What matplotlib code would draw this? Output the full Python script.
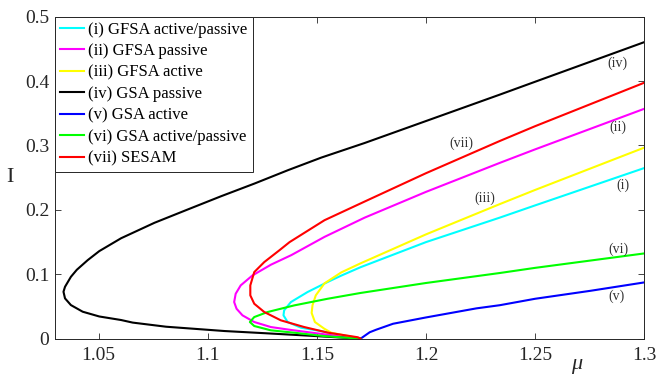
import numpy as np
import matplotlib
matplotlib.use("Agg")
import matplotlib.pyplot as plt

plt.rcParams['font.family'] = 'Liberation Serif'

# bifurcation branches, ordered from the lower branch at mu=1.17 round the fold to mu=1.3
mu_i = [1.170, 1.1612, 1.1518, 1.1427, 1.1366, 1.1347, 1.1350, 1.1381, 1.1457, 1.1549, 1.1612,
        1.170, 1.200, 1.2338, 1.250, 1.300]
I_i = [0.000, 0.0055, 0.0119, 0.0171, 0.0259, 0.0363, 0.0440, 0.0569, 0.0724, 0.0880, 0.0980,
       0.111, 0.150, 0.188, 0.207, 0.265]

mu_ii = [1.170, 1.1535, 1.1383, 1.1289, 1.1213, 1.1159, 1.1132, 1.1121, 1.1128, 1.1151, 1.1205,
         1.1290, 1.1383, 1.1535, 1.1719, 1.200, 1.2338, 1.250, 1.300]
I_ii = [0.000, 0.0068, 0.0135, 0.0181, 0.0259, 0.0363, 0.0465, 0.0569, 0.0698, 0.0828, 0.0983,
        0.1150, 0.1298, 0.1581, 0.188, 0.228, 0.273, 0.294, 0.357]

mu_iii = [1.170, 1.1658, 1.1566, 1.1534, 1.1491, 1.1476, 1.1480, 1.1495, 1.1535, 1.1612,
          1.170, 1.200, 1.2338, 1.250, 1.300]
I_iii = [0.000, 0.0031, 0.0093, 0.0155, 0.0259, 0.0400, 0.0520, 0.0673, 0.0860, 0.103,
         0.117, 0.162, 0.209, 0.231, 0.2967]

mu_iv = [1.170, 1.150, 1.1268, 1.1077, 1.0809, 1.0656, 1.0603, 1.0503, 1.0427, 1.0373, 1.0346,
         1.0339, 1.0346, 1.0373, 1.0400, 1.0450, 1.0503, 1.0603, 1.0756, 1.0908, 1.1061, 1.1214,
         1.1367, 1.1520, 1.1719, 1.200, 1.2338, 1.250, 1.300]
I_iv = [0.000, 0.0040, 0.0084, 0.0119, 0.0186, 0.0250, 0.0290, 0.0345, 0.0419, 0.0522, 0.0626,
        0.0729, 0.0806, 0.0961, 0.1070, 0.1220, 0.1360, 0.156, 0.180, 0.2006, 0.2212, 0.2409,
        0.2616, 0.2812, 0.3039, 0.338, 0.379, 0.399, 0.4605]

mu_v = [1.170, 1.1742, 1.1772, 1.1849, 1.200, 1.2231, 1.2338, 1.250, 1.2754, 1.300]
I_v = [0.000, 0.010, 0.0140, 0.0232, 0.033, 0.0471, 0.052, 0.062, 0.0744, 0.0874]

mu_vi = [1.170, 1.1535, 1.1396, 1.1289, 1.1213, 1.1193, 1.1213, 1.1274, 1.1396, 1.1549,
         1.170, 1.200, 1.2338, 1.250, 1.300]
I_vi = [0.000, 0.0040, 0.0093, 0.0130, 0.0197, 0.0259, 0.0336, 0.0414, 0.0517, 0.0620,
        0.071, 0.0865, 0.102, 0.110, 0.1324]

mu_vii = [1.170, 1.1688, 1.1549, 1.1442, 1.1335, 1.1259, 1.1213, 1.1195, 1.1195, 1.1213, 1.1259,
          1.1329, 1.1375, 1.1535, 1.1719, 1.200, 1.2338, 1.250, 1.300]
I_vii = [0.000, 0.0022, 0.0095, 0.0181, 0.0285, 0.0414, 0.0543, 0.0673, 0.0828, 0.1034, 0.1190,
         0.1375, 0.150, 0.184, 0.213, 0.257, 0.307, 0.330, 0.3975]

labels = ["(i) GFSA active/passive", "(ii) GFSA passive", "(iii) GFSA active", "(iv) GSA passive",
          "(v) GSA active", "(vi) GSA active/passive", "(vii) SESAM"]
colors = ["#00ffff", "#ff00ff", "#ffff00", "#000000", "#0000ff", "#00ff00", "#ff0000"]

# small curve tags
tags = ["(i)", "(ii)", "(iii)", "(iv)", "(v)", "(vi)", "(vii)"]
tag_mu = [1.2901, 1.2881, 1.2269, 1.2876, 1.2873, 1.2883, 1.2162]
tag_I = [0.239, 0.328, 0.2177, 0.427, 0.0662, 0.1386, 0.303]

xticks = [1.05, 1.1, 1.15, 1.2, 1.25, 1.3]
xticklabels = ["1.05", "1.1", "1.15", "1.2", "1.25", "1.3"]
yticks = [0, 0.1, 0.2, 0.3, 0.4, 0.5]
yticklabels = ["0", "0.1", "0.2", "0.3", "0.4", "0.5"]

fig = plt.figure(figsize=(6.56, 3.77), dpi=100)
ax = fig.add_axes([0.0838, 0.1016, 0.8983, 0.8541])

curves = [(mu_i, I_i), (mu_ii, I_ii), (mu_iii, I_iii), (mu_iv, I_iv),
          (mu_v, I_v), (mu_vi, I_vi), (mu_vii, I_vii)]
for (m, v), c, lab in zip(curves, colors, labels):
    ax.plot(m, v, color=c, lw=1.5, label=lab)

for t, m, v in zip(tags, tag_mu, tag_I):
    ax.text(m, v, t, fontsize=10, color="#333333", ha="center", va="center")

ax.set_xlim(1.03, 1.3)
ax.set_ylim(0, 0.5)
ax.set_xticks(xticks)
ax.set_xticklabels(xticklabels)
ax.set_yticks(yticks)
ax.set_yticklabels(yticklabels)
ax.tick_params(direction="in", top=True, right=True, length=4, width=0.6,
               labelsize=14, colors="#262626")
ax.tick_params(axis="x", pad=6)
ax.tick_params(axis="y", pad=4)
for s in ax.spines.values():
    s.set_color("#262626")
    s.set_linewidth(0.7)

ax.set_xlabel("μ", fontsize=16, fontstyle="italic", color="#262626")
ax.xaxis.set_label_coords(0.885, -0.05)
ax.set_ylabel("I", fontsize=16, rotation=0, color="#262626")
ax.yaxis.set_label_coords(-0.076, 0.47)

leg = ax.legend(loc="upper left", fontsize=12, frameon=True, fancybox=False,
                borderaxespad=0.0, borderpad=0.3, labelspacing=0.33,
                handlelength=1.45, handletextpad=0.25)
leg.get_frame().set_edgecolor("#262626")
leg.get_frame().set_linewidth(0.7)
leg.get_frame().set_alpha(1)

fig.savefig("out.png", dpi=100)
